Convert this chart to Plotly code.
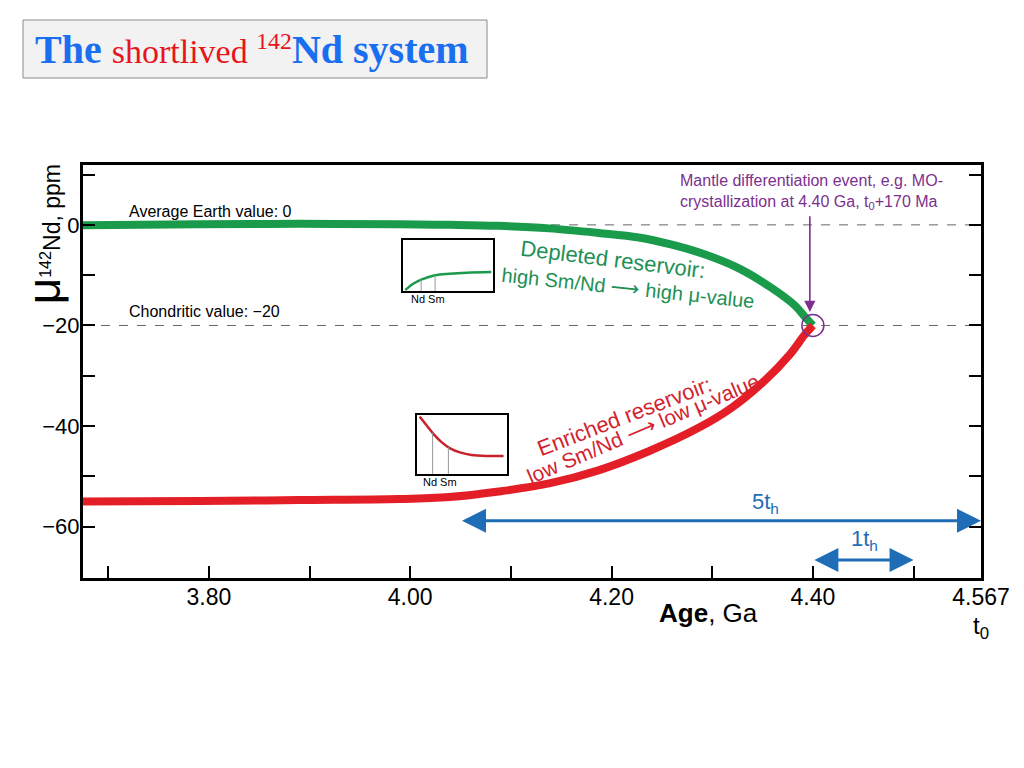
import numpy as np
import plotly.graph_objects as go

# ---------------- data ----------------
# Depleted reservoir (green) : age in Ga, mu142Nd in ppm
age_depleted = [3.675, 3.79, 3.89, 3.99, 4.04, 4.088, 4.138, 4.187, 4.227, 4.261, 4.293, 4.326, 4.358, 4.382, 4.393, 4.40]
mu_depleted = [-0.1, 0.1, 0.2, 0.1, 0.0, -0.2, -0.7, -1.6, -2.5, -4.0, -5.9, -8.6, -12.4, -16.0, -18.5, -20.0]

# Enriched reservoir (red)
age_enriched = [3.675, 3.791, 3.89, 3.989, 4.039, 4.088, 4.138, 4.187, 4.237, 4.286, 4.319, 4.352, 4.377, 4.392, 4.40]
mu_enriched = [-55.0, -54.9, -54.7, -54.5, -54.1, -53.0, -51.4, -48.8, -45.0, -40.4, -36.4, -31.0, -25.8, -21.8, -20.0]

# reference levels
earth_value = 0
chondritic_value = -20
event_age = 4.40

# axis ticks
x_tickvals = [3.7, 3.8, 3.9, 4.0, 4.1, 4.2, 4.3, 4.4, 4.5, 4.567]
x_ticktext = ["", "3.80", "", "4.00", "", "4.20", "", "4.40", "", "4.567"]
y_tickvals = [10, 0, -10, -20, -30, -40, -50, -60]
y_ticktext = ["", "0", "", "−20", "", "−40", "", "−60"]

# half-life spans (Ga)
span_5th = [4.05, 4.567]
span_1th = [4.40, 4.50]
span_5th_level = -58.8
span_1th_level = -66.6

# inset curves (relative units 0..100)
inset_dep_x = [2.6, 11.8, 21, 35.7, 52, 70.6, 98]
inset_dep_y = [1.9, 14.8, 23, 31, 34, 36, 37.4]
inset_enr_x = [2.9, 11, 18.4, 27.6, 36.8, 47.8, 60.7, 77.2, 96.3]
inset_enr_y = [97, 81.5, 67.4, 53.4, 43.3, 36.5, 32, 30.3, 30.3]
inset_dep_lines = [20.2, 35.7]
inset_enr_lines = [17.3, 34.9]

# ---------------- styling ----------------
FONT = "Liberation Sans Narrow, Arial Narrow, Liberation Sans, Arial, sans-serif"
GREEN = "#1a9b4b"
GREEN_TXT = "#1e9055"
RED = "#e41e26"
RED_TXT = "#d2232e"
BLUE = "#1f6db6"
PURPLE = "#7d2f8e"

fig = go.Figure()

# dashed reference lines
for lvl in [earth_value, chondritic_value]:
    fig.add_trace(go.Scatter(x=[3.675, 4.567], y=[lvl, lvl], mode="lines",
                             line=dict(color="#666666", width=1, dash="dash"),
                             hoverinfo="skip", showlegend=False))

fig.add_trace(go.Scatter(x=age_depleted, y=mu_depleted, mode="lines",
                         line=dict(color=GREEN, width=8, shape="spline"), showlegend=False))
fig.add_trace(go.Scatter(x=age_enriched, y=mu_enriched, mode="lines",
                         line=dict(color=RED, width=8, shape="spline"), showlegend=False))

# event circle
fig.add_trace(go.Scatter(x=[event_age], y=[chondritic_value], mode="markers",
                         marker=dict(symbol="circle-open", size=22, color=PURPLE, line=dict(width=1.5, color=PURPLE)),
                         showlegend=False))

# insets
fig.add_trace(go.Scatter(x=inset_dep_x, y=inset_dep_y, mode="lines", xaxis="x2", yaxis="y2",
                         line=dict(color=GREEN, width=2.5, shape="spline"), showlegend=False))
for lx in inset_dep_lines:
    fig.add_trace(go.Scatter(x=[lx, lx], y=[0, float(np.interp(lx, inset_dep_x, inset_dep_y))], mode="lines",
                             xaxis="x2", yaxis="y2", line=dict(color="#999999", width=1), showlegend=False))
fig.add_trace(go.Scatter(x=inset_enr_x, y=inset_enr_y, mode="lines", xaxis="x3", yaxis="y3",
                         line=dict(color="#c8232c", width=2.5, shape="spline"), showlegend=False))
for lx in inset_enr_lines:
    fig.add_trace(go.Scatter(x=[lx, lx], y=[0, float(np.interp(lx, inset_enr_x, inset_enr_y))], mode="lines",
                             xaxis="x3", yaxis="y3", line=dict(color="#999999", width=1), showlegend=False))

inset_axis = dict(range=[0, 100], showline=True, mirror=True, linecolor="black", linewidth=1.5,
                  showticklabels=False, ticks="", showgrid=False, zeroline=False, automargin=False)

ann = []
# title box text
ann.append(dict(xref="paper", yref="paper", x=0.188, y=1.2785, xanchor="center", yanchor="middle",
                showarrow=False,
                text="<b>The</b> <span style='color:#e8141c;font-size:34px;font-weight:normal'>shortlived <sup>142</sup></span><b>Nd system</b>",
                font=dict(family="Liberation Serif, Times New Roman, serif", size=40, color="#1a6ff0")))
# axis titles
ann.append(dict(xref="paper", yref="paper", x=-0.043, y=0.833, xanchor="center", yanchor="middle",
                textangle=-90, showarrow=False,
                text="<span style='font-size:46px'>μ</span><sup>142</sup>Nd, ppm",
                font=dict(family=FONT, size=23, color="black")))
ann.append(dict(xref="paper", yref="paper", x=(708 - 83) / 898, y=(578 - 613) / 413, xanchor="center", yanchor="middle",
                showarrow=False, text="<b>Age</b>, Ga", font=dict(family=FONT, size=26, color="black")))
ann.append(dict(xref="x", yref="paper", x=4.567, y=(578 - 627) / 413, xanchor="center", yanchor="middle",
                showarrow=False, text="t<sub>0</sub>", font=dict(family=FONT, size=24, color="black")))
# reference labels
ann.append(dict(xref="paper", yref="y", x=(127 - 83) / 898, y=earth_value, xanchor="left", yanchor="bottom",
                yshift=3, showarrow=False, text="Average Earth value: 0",
                font=dict(family=FONT, size=16, color="black")))
ann.append(dict(xref="paper", yref="y", x=(127 - 83) / 898, y=chondritic_value, xanchor="left", yanchor="bottom",
                yshift=3, showarrow=False, text="Chondritic value: −20",
                font=dict(family=FONT, size=16, color="black")))
# reservoir labels
ann.append(dict(xref="paper", yref="paper", x=(613 - 83) / 898, y=(578 - 259) / 413, xanchor="center", yanchor="middle",
                textangle=7, showarrow=False, text="Depleted reservoir:",
                font=dict(family=FONT, size=22, color=GREEN_TXT)))
ann.append(dict(xref="paper", yref="paper", x=(628 - 83) / 898, y=(578 - 288) / 413, xanchor="center", yanchor="middle",
                textangle=6, showarrow=False, text="high Sm/Nd ⟶ high μ-value",
                font=dict(family=FONT, size=20, color=GREEN_TXT)))
ann.append(dict(xref="paper", yref="paper", x=(624 - 83) / 898, y=(578 - 416) / 413, xanchor="center", yanchor="middle",
                textangle=-21, showarrow=False, text="Enriched reservoir:",
                font=dict(family=FONT, size=22, color=RED_TXT)))
ann.append(dict(xref="paper", yref="paper", x=(643 - 83) / 898, y=(578 - 428) / 413, xanchor="center", yanchor="middle",
                textangle=-23, showarrow=False, text="low Sm/Nd ⟶ low μ-value",
                font=dict(family=FONT, size=21, color=RED_TXT)))
# event annotation
ann.append(dict(xref="paper", yref="paper", x=(678 - 83) / 898, y=(578 - 192) / 413, xanchor="left", yanchor="middle",
                align="left", showarrow=False,
                text="Mantle differentiation event, e.g. MO-<br>crystallization at 4.40 Ga, t<sub>0</sub>+170 Ma",
                font=dict(family=FONT, size=16, color=PURPLE)))
ann.append(dict(xref="x", yref="y", axref="x", ayref="y", x=event_age - 0.003, y=-17.3, ax=event_age - 0.003, ay=2.0,
                showarrow=True, arrowhead=2, arrowsize=1.4, arrowwidth=1.6, arrowcolor=PURPLE, text=""))
# half-life arrows
for span, lvl in [(span_5th, span_5th_level), (span_1th, span_1th_level)]:
    ann.append(dict(xref="x", yref="y", axref="x", ayref="y", x=span[1], y=lvl, ax=span[0], ay=lvl,
                    showarrow=True, arrowhead=2, arrowside="end+start", arrowsize=1.6, arrowwidth=3,
                    arrowcolor=BLUE, text=""))
ann.append(dict(xref="x", yref="y", x=4.353, y=span_5th_level, yanchor="bottom", yshift=2, showarrow=False,
                text="5t<sub>h</sub>", font=dict(family=FONT, size=22, color=BLUE)))
ann.append(dict(xref="x", yref="y", x=4.451, y=span_1th_level, yanchor="bottom", yshift=4, showarrow=False,
                text="1t<sub>h</sub>", font=dict(family=FONT, size=22, color=BLUE)))
# inset labels
ann.append(dict(xref="x2", yref="paper", x=sum(inset_dep_lines) / 2, y=0.695, yanchor="top", showarrow=False,
                text="Nd Sm", font=dict(family=FONT, size=11, color="black")))
ann.append(dict(xref="x3", yref="paper", x=sum(inset_enr_lines) / 2, y=0.252, yanchor="top", showarrow=False,
                text="Nd Sm", font=dict(family=FONT, size=11, color="black")))

fig.update_layout(
    width=1008, height=752,
    margin=dict(l=75, r=35, t=157, b=182, autoexpand=False),
    paper_bgcolor="white", plot_bgcolor="white",
    showlegend=False,
    xaxis=dict(range=[3.675, 4.567], tickvals=x_tickvals, ticktext=x_ticktext,
               ticks="inside", ticklen=12, tickwidth=2, tickcolor="black",
               showline=True, linewidth=3, linecolor="black", mirror=True,
               showgrid=False, zeroline=False, automargin=False, ticklabelstandoff=-4,
               tickfont=dict(family=FONT, size=23, color="black")),
    yaxis=dict(range=[-70.2, 11.9], tickvals=y_tickvals, ticktext=y_ticktext,
               ticks="inside", ticklen=12, tickwidth=2, tickcolor="black",
               showline=True, linewidth=3, linecolor="black", mirror="ticks",
               showgrid=False, zeroline=False, automargin=False, ticklabelstandoff=-4,
               tickfont=dict(family=FONT, size=22, color="black")),
    xaxis2=dict(domain=[0.3563, 0.4566], anchor="y2", **inset_axis),
    yaxis2=dict(domain=[0.695, 0.818], anchor="x2", **inset_axis),
    xaxis3=dict(domain=[0.372, 0.472], anchor="y3", **inset_axis),
    yaxis3=dict(domain=[0.252, 0.395], anchor="x3", **inset_axis),
    annotations=ann,
    shapes=[dict(type="rect", xref="paper", yref="paper",
                 x0=(23 - 83) / 898, x1=(487 - 83) / 898, y0=(578 - 78) / 413, y1=(578 - 20) / 413,
                 fillcolor="#f2f2f2", line=dict(color="#8a8a8a", width=1), layer="below")],
)

fig.write_html("out.html")
